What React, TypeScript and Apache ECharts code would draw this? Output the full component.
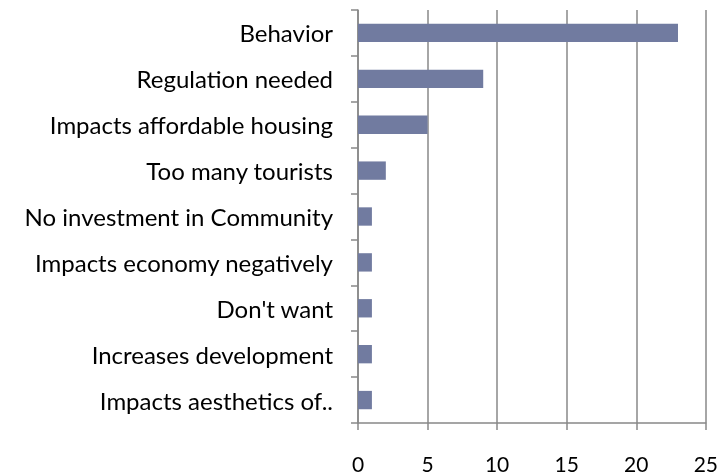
import React, { useEffect, useRef } from "react";
import * as echarts from "echarts";

const categories = [
  "Behavior",
  "Regulation needed",
  "Impacts affordable housing",
  "Too many tourists",
  "No investment in Community",
  "Impacts economy negatively",
  "Don't want",
  "Increases development",
  "Impacts aesthetics of..",
];
const values = [23, 9, 5, 2, 1, 1, 1, 1, 1];
const axisMin = 0;
const axisMax = 25;
const axisStep = 5;

export default function App() {
  const ref = useRef<HTMLDivElement>(null);
  useEffect(() => {
    if (!ref.current) return;
    const chart = echarts.init(ref.current, undefined, { renderer: "svg" });
    const grey = "#888888";
    chart.setOption({
      animation: false,
      grid: { left: 358, right: 14, top: 10, bottom: 52, containLabel: false },
      xAxis: {
        type: "value",
        min: axisMin,
        max: axisMax,
        interval: axisStep,
        axisLine: { show: true, lineStyle: { color: grey, width: 1.5 } },
        axisTick: { show: true, length: 7, lineStyle: { color: grey, width: 1.5 } },
        splitLine: { show: true, lineStyle: { color: grey, width: 1.5 } },
        axisLabel: { color: "#000", fontSize: 21, margin: 30, fontFamily: "Lato" },
      },
      yAxis: {
        type: "category",
        data: categories,
        inverse: true,
        axisLine: { show: true, lineStyle: { color: grey, width: 1.5 } },
        axisTick: { show: true, length: 7, alignWithLabel: false, lineStyle: { color: grey, width: 1.5 } },
        axisLabel: { color: "#000", fontSize: 24, margin: 25, fontFamily: "Lato" },
      },
      series: [
        {
          type: "bar",
          data: values,
          barCategoryGap: "60%",
          itemStyle: { color: "#717ba0" },
        },
      ],
    });
    return () => chart.dispose();
  }, []);
  return <div ref={ref} style={{ position: "fixed", left: 0, top: 0, width: 721, height: 475 }} />;
}
